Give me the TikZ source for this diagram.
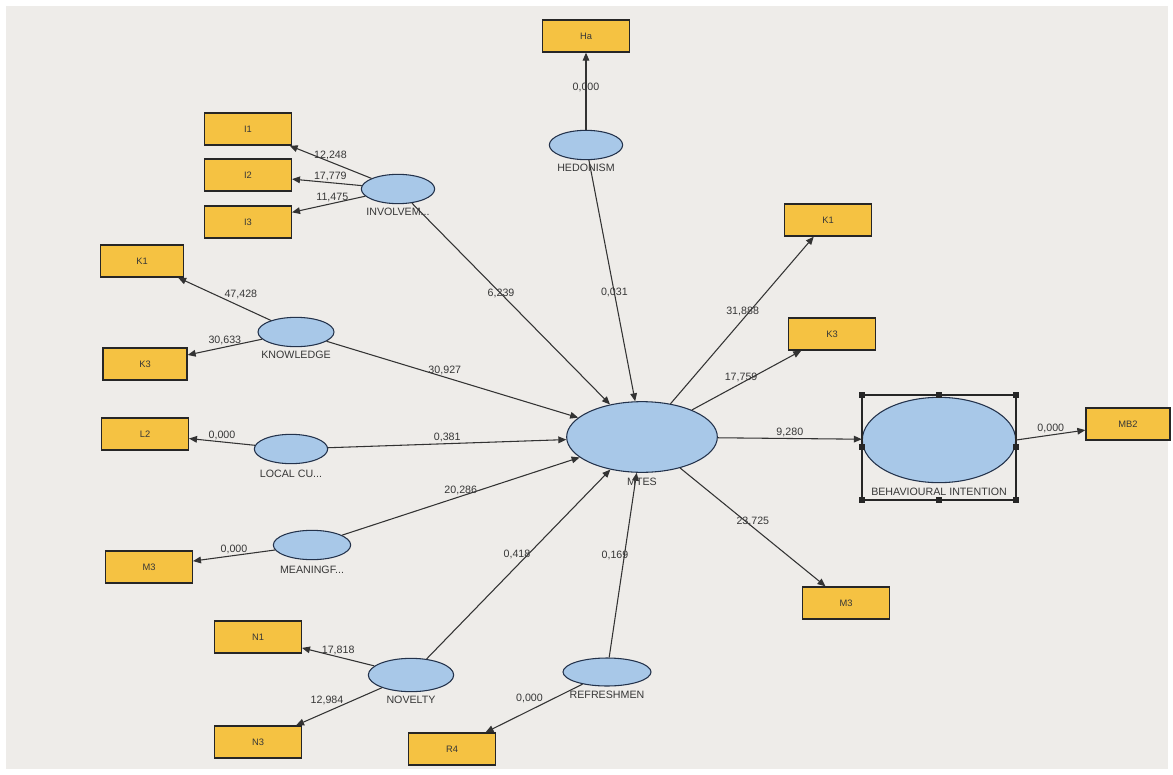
\documentclass[tikz,border=0pt]{standalone}
\usepackage{fontspec}
\setmainfont{Liberation Sans}
\usetikzlibrary{shapes.geometric, positioning, arrows.meta}
\definecolor{mvbox}{RGB}{245,194,66}
\definecolor{lvfill}{RGB}{168,200,232}
\definecolor{lvline}{RGB}{35,50,75}
\definecolor{bggray}{RGB}{238,236,233}
\definecolor{txtgray}{RGB}{55,55,55}

\begin{document}
\begin{tikzpicture}[
    x=0.75pt, y=-0.75pt,
    indicator/.style={draw=black!85, rectangle, fill=mvbox, line width=1pt, minimum width=65pt, minimum height=24pt, inner sep=0pt, text=txtgray, font=\fontsize{7}{8}\selectfont},
    construct/.style={draw=lvline, ellipse, fill=lvfill, line width=0.8pt, minimum width=55pt, minimum height=22pt, inner sep=0pt},
    caption/.style={inner sep=0pt, text=txtgray, font=\fontsize{8}{9}\selectfont},
    link/.style={draw=black!80, line width=0.8pt, -{Triangle[length=6pt, width=5pt]}},
    coef/.style={inner sep=1pt, text=txtgray, font=\fontsize{8}{9}\selectfont},
    handle/.style={rectangle, fill=black!85, minimum size=4.5pt, inner sep=0pt}
]

    % background
    \fill[white] (0,0) rectangle (1173,774);
    \fill[bggray] (6,6) rectangle (1168,769);

    % ===============================
    % 1. CONSTRUCTS
    % ===============================
    \node[construct, minimum width=113pt, minimum height=53pt] (mtes) at (642,437) {};
    \node[caption, below=4pt of mtes] (mtescap) {MTES};

    \node[construct] (hed) at (586,145) {};
    \node[caption, below=3pt of hed] (hedcap) {HEDONISM};

    \node[construct] (inv) at (398,189) {};
    \node[caption, below=3pt of inv] (invcap) {INVOLVEM...};

    \node[construct, minimum width=57pt] (kno) at (296,332) {};
    \node[caption, below=3pt of kno] (knocap) {KNOWLEDGE};

    \node[construct] (loc) at (291,449) {};
    \node[caption, below=4pt of loc] (loccap) {LOCAL CU...};

    \node[construct, minimum width=58pt] (mea) at (312,545) {};
    \node[caption, below=4pt of mea] (meacap) {MEANINGF...};

    \node[construct, minimum width=64pt, minimum height=25pt] (nov) at (411,675) {};
    \node[caption, below=3pt of nov] (novcap) {NOVELTY};

    \node[construct, minimum width=66pt, minimum height=21pt] (ref) at (607,672) {};
    \node[caption, below=3pt of ref] (refcap) {REFRESHMEN};

    \node[construct, minimum width=115pt, minimum height=64pt] (bi) at (939,440) {};
    \node[caption] (bicap) at (939,492) {BEHAVIOURAL INTENTION};

    % selection frame round BEHAVIOURAL INTENTION
    \draw[black!85, line width=0.8pt] (862,395) rectangle (1016,500);
    \foreach \hx/\hy [count=\i] in {862/395, 939/395, 1016/395, 862/447, 1016/447, 862/500, 939/500, 1016/500}
        \node[handle] (h\i) at (\hx,\hy) {};

    % ===============================
    % 2. INDICATORS
    % ===============================
    \node[indicator] (ha) at (586,36) {Ha};

    \node[indicator] (i1) at (248,129) {I1};
    \node[indicator] (i2) at (248,175) {I2};
    \node[indicator] (i3) at (248,222) {I3};

    \node[indicator, minimum width=62pt] (k1l) at (142,261) {K1};
    \node[indicator, minimum width=63pt] (k3l) at (145,364) {K3};

    \node[indicator] (l2) at (145,434) {L2};
    \node[indicator] (m3l) at (149,567) {M3};

    \node[indicator] (n1) at (258,637) {N1};
    \node[indicator] (n3) at (258,742) {N3};
    \node[indicator] (r4) at (452,749) {R4};

    \node[indicator] (k1r) at (828,220) {K1};
    \node[indicator] (k3r) at (832,334) {K3};
    \node[indicator] (m3r) at (846,603) {M3};
    \node[indicator, minimum width=63pt] (mb2) at (1128,424) {MB2};

    % ===============================
    % 3. OUTER LOADINGS
    % ===============================
    \draw[link] (hed) -- (ha) node[coef, pos=0.55] {0,000};

    \draw[link] (inv) -- (i1) node[coef, pos=0.5, above] {12,248};
    \draw[link] (inv) -- (i2) node[coef, pos=0.45, above] {17,779};
    \draw[link] (inv) -- (i3) node[coef, pos=0.45, above] {11,475};

    \draw[link] (kno) -- (k1l) node[coef, pos=0.5, above right=-2pt] {47,428};
    \draw[link] (kno) -- (k3l) node[coef, pos=0.5, above] {30,633};

    \draw[link] (loc) -- (l2) node[coef, pos=0.5, above] {0,000};
    \draw[link] (mea) -- (m3l) node[coef, pos=0.5, above] {0,000};

    \draw[link] (nov) -- (n1) node[coef, pos=0.5, above] {17,818};
    \draw[link] (nov) -- (n3) node[coef, pos=0.45, above left=-2pt] {12,984};
    \draw[link] (ref) -- (r4) node[coef, pos=0.4, above left=-1pt] {0,000};

    \draw[link] (mtes) -- (k1r) node[coef, pos=0.55, xshift=-5pt] {31,888};
    \draw[link] (mtes) -- (k3r) node[coef, pos=0.45, above] {17,759};
    \draw[link] (mtes) -- (m3r) node[coef, pos=0.5, yshift=4pt] {23,725};
    \draw[link] (bi.east) -- (mb2) node[coef, pos=0.5, above] {0,000};

    % ===============================
    % 4. PATH COEFFICIENTS
    % ===============================
    \draw[link] (hed) -- (mtes) node[coef, pos=0.55] {0,031};
    \draw[link] (inv) -- (mtes) node[coef, pos=0.45] {6,239};
    \draw[link] (kno) -- (mtes) node[coef, pos=0.47, above] {30,927};
    \draw[link] (loc) -- (mtes) node[coef, pos=0.5, above] {0,381};
    \draw[link] (mea) -- (mtes) node[coef, pos=0.5, above] {20,286};
    \draw[link] (nov) -- (mtes) node[coef, pos=0.55, xshift=-8pt] {0,418};
    \draw[link] (ref) -- (mtes) node[coef, pos=0.55, xshift=-7pt] {0,169};
    \draw[link] (mtes) -- (bi) node[coef, pos=0.5, above] {9,280};

\end{tikzpicture}
\end{document}
